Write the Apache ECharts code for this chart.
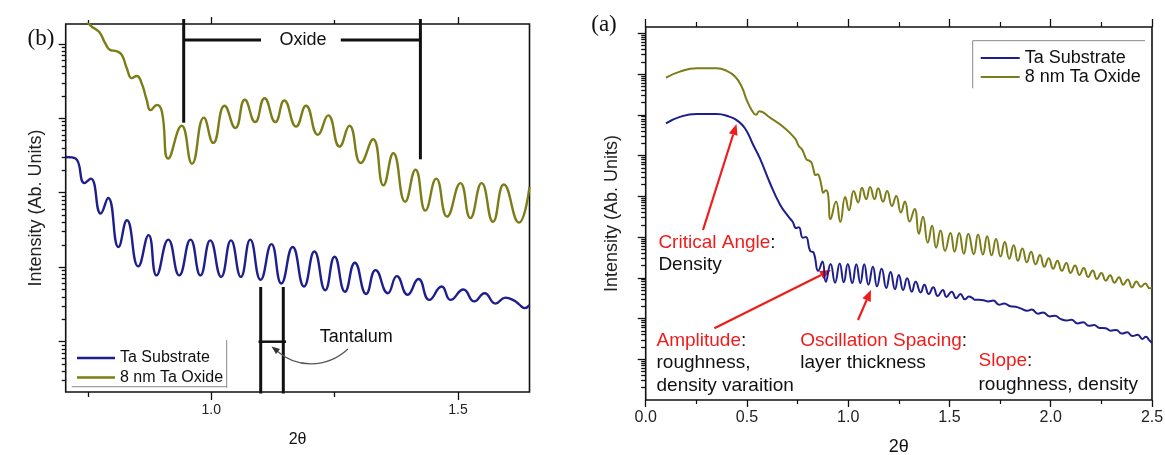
<!DOCTYPE html>
<html>
<head>
<meta charset="utf-8">
<script src="https://cdn.jsdelivr.net/npm/echarts@6.0.0/dist/echarts.min.js"></script>
<style>
  html, body { margin: 0; padding: 0; background: #fff; }
  #chart { width: 1165px; height: 455px; }
</style>
</head>
<body>
<div id="chart"></div>
<script>
// values; intensities are kept as log10 (decades), axes are log
const names = ['Ta Substrate', '8 nm Ta Oxide'];

// panel (b), zoomed 2θ range
const zoomSubX = [0.705, 0.725, 0.743, 0.756, 0.776, 0.791, 0.812, 0.829, 0.852, 0.873,
  0.889, 0.913, 0.935, 0.958, 0.978, 0.998, 1.020, 1.040, 1.060, 1.079,
  1.100, 1.122, 1.142, 1.165, 1.188, 1.209, 1.231, 1.250, 1.271, 1.291,
  1.314, 1.333, 1.358, 1.376, 1.398, 1.420, 1.442, 1.467, 1.485, 1.511,
  1.533, 1.554, 1.576, 1.596, 1.614, 1.624, 1.635, 1.645];
const zoomSubLog = [2.48, 2.46, 2.13, 2.19, 1.72, 1.93, 1.27, 1.63, 1.01, 1.43,
  0.89, 1.37, 0.89, 1.37, 0.89, 1.36, 0.87, 1.36, 0.87, 1.37,
  0.83, 1.31, 0.78, 1.27, 0.74, 1.21, 0.69, 1.14, 0.67, 1.06,
  0.64, 0.96, 0.65, 0.88, 0.63, 0.84, 0.56, 0.74, 0.56, 0.70,
  0.54, 0.65, 0.51, 0.59, 0.55, 0.50, 0.45, 0.49];
const zoomOxX = [0.705, 0.755, 0.773, 0.785, 0.795, 0.809, 0.819, 0.829, 0.839, 0.849,
  0.859, 0.869, 0.877, 0.890, 0.900, 0.913, 0.940, 0.961, 0.985, 1.004,
  1.027, 1.049, 1.068, 1.089, 1.108, 1.130, 1.148, 1.172, 1.192, 1.216,
  1.237, 1.260, 1.280, 1.303, 1.328, 1.349, 1.369, 1.393, 1.414, 1.434,
  1.456, 1.478, 1.505, 1.525, 1.548, 1.571, 1.593, 1.6235, 1.645];
const zoomOxLog = [4.64, 4.25, 4.16, 4.01, 3.92, 3.90, 3.85, 3.67, 3.54, 3.57,
  3.47, 3.25, 3.11, 3.18, 3.09, 2.46, 2.90, 2.39, 3.01, 2.67,
  3.17, 2.87, 3.25, 2.95, 3.27, 2.95, 3.24, 2.89, 3.17, 2.78,
  3.04, 2.62, 2.90, 2.40, 2.72, 2.10, 2.53, 1.88, 2.31, 1.76,
  2.19, 1.68, 2.13, 1.66, 2.13, 1.61, 2.11, 1.60, 2.08];

// panel (a), full scan
const fullSubX = [0.100, 0.169, 0.252, 0.351, 0.416, 0.449, 0.490, 0.531, 0.564, 0.614,
  0.663, 0.705, 0.725, 0.743, 0.756, 0.776, 0.791, 0.812, 0.829, 0.852,
  0.873, 0.889, 0.913, 0.935, 0.958, 0.978, 0.998, 1.020, 1.040, 1.060,
  1.079, 1.100, 1.122, 1.142, 1.165, 1.188, 1.209, 1.231, 1.250, 1.271,
  1.291, 1.314, 1.333, 1.358, 1.376, 1.398, 1.420, 1.442, 1.467, 1.485,
  1.511, 1.533, 1.554, 1.576, 1.596, 1.614, 1.624, 1.645,
  1.668, 1.691, 1.716, 1.745, 1.770, 1.801, 1.826, 1.851, 1.884, 1.906,
  1.937, 1.962, 1.995, 2.021, 2.048, 2.080, 2.102, 2.133, 2.160, 2.188,
  2.214, 2.240, 2.271, 2.296, 2.323, 2.351, 2.377, 2.404, 2.430, 2.452,
  2.470, 2.486, 2.500];
const fullSubLog = [5.79, 5.95, 6.02, 6.02, 5.95, 5.87, 5.67, 5.26, 4.93, 4.32,
  3.80, 3.50, 3.38, 3.22, 3.24, 2.98, 3.00, 2.66, 2.62, 2.17,
  2.40, 1.90, 2.34, 1.88, 2.35, 1.89, 2.34, 1.87, 2.33, 1.87,
  2.33, 1.83, 2.27, 1.79, 2.22, 1.75, 2.14, 1.72, 2.07, 1.70,
  1.99, 1.66, 1.90, 1.64, 1.83, 1.60, 1.77, 1.55, 1.70, 1.53,
  1.66, 1.50, 1.60, 1.47, 1.54, 1.50, 1.46, 1.46,
  1.45, 1.42, 1.44, 1.34, 1.37, 1.30, 1.29, 1.25, 1.19, 1.22,
  1.12, 1.15, 1.05, 1.07, 0.99, 0.95, 0.97, 0.88, 0.91, 0.82,
  0.84, 0.77, 0.76, 0.70, 0.72, 0.63, 0.66, 0.57, 0.60, 0.50,
  0.55, 0.47, 0.40];
const fullOxX = [0.100, 0.169, 0.252, 0.351, 0.400, 0.441, 0.474, 0.499, 0.523, 0.545,
  0.561, 0.614, 0.680, 0.737, 0.755, 0.773, 0.785, 0.795, 0.809, 0.819,
  0.829, 0.839, 0.849, 0.859, 0.869, 0.877, 0.890, 0.900, 0.913, 0.940,
  0.961, 0.985, 1.004, 1.027, 1.049, 1.068, 1.089, 1.108, 1.130, 1.148,
  1.172, 1.192, 1.216, 1.237, 1.260, 1.280, 1.303, 1.328, 1.349, 1.369,
  1.393, 1.414, 1.434, 1.456, 1.478, 1.505, 1.525, 1.548, 1.571, 1.593,
  1.620, 1.641, 1.665, 1.686, 1.708, 1.730, 1.752, 1.773, 1.795, 1.817,
  1.838, 1.860, 1.882, 1.903, 1.925, 1.947, 1.968, 1.990, 2.012, 2.033,
  2.055, 2.077, 2.098, 2.120, 2.142, 2.163, 2.185, 2.207, 2.228, 2.250,
  2.272, 2.293, 2.315, 2.337, 2.358, 2.380, 2.402, 2.423, 2.445, 2.467,
  2.488, 2.500];
const fullOxLog = [6.91, 7.06, 7.14, 7.14, 7.08, 6.94, 6.69, 6.36, 6.12, 6.00,
  6.09, 5.93, 5.70, 5.42, 5.24, 5.14, 5.00, 4.90, 4.87, 4.82,
  4.65, 4.52, 4.54, 4.45, 4.23, 4.09, 4.15, 4.06, 3.44, 3.87,
  3.37, 3.98, 3.66, 4.13, 3.85, 4.21, 3.93, 4.23, 3.93, 4.20,
  3.87, 4.13, 3.76, 4.01, 3.60, 3.87, 3.38, 3.69, 3.08, 3.50,
  2.86, 3.28, 2.74, 3.16, 2.66, 3.10, 2.64, 3.10, 2.59, 3.08,
  2.58, 3.06, 2.57, 3.02, 2.55, 2.95, 2.52, 2.88, 2.47, 2.80,
  2.42, 2.72, 2.38, 2.64, 2.33, 2.56, 2.27, 2.48, 2.22, 2.42,
  2.17, 2.36, 2.12, 2.30, 2.07, 2.24, 2.02, 2.18, 1.97, 2.12,
  1.93, 2.06, 1.88, 2.01, 1.83, 1.96, 1.76, 1.91, 1.78, 1.86,
  1.74, 1.77];

const zoomXMajor = [1.0, 1.5];
const zoomXMinor = [0.75, 1.25];

const BLUE = '#1e1e8c';
const OLIVE = '#7c7c18';
const INK = '#111';
const SANS = '"Liberation Sans", Arial, sans-serif';
const SERIF = '"Liberation Serif", "Times New Roman", serif';

function pairs(xs, logs) {
  return xs.map((x, i) => [x, Math.pow(10, logs[i])]);
}
function decades(lo, hi) {
  const out = [];
  for (let e = lo; e <= hi; e++) out.push(Math.pow(10, e));
  return out;
}
function logMinor(lo, hi) {
  const out = [];
  for (let e = lo; e <= hi; e++)
    for (let k = 2; k <= 9; k++) out.push(k * Math.pow(10, e));
  return out;
}

function xAx(grid, pos, extra) {
  return Object.assign({
    type: 'value', gridIndex: grid, position: pos,
    axisLine: { show: false }, splitLine: { show: false },
    axisLabel: { show: false },
    axisTick: { lineStyle: { color: INK, width: 1.3 } }
  }, extra);
}
function yAx(grid, min, max, ticks, len, extra) {
  return Object.assign({
    type: 'log', logBase: 10, gridIndex: grid, position: 'left', min: min, max: max,
    axisLine: { show: false }, splitLine: { show: false },
    axisLabel: { show: false },
    axisTick: { customValues: ticks, length: len, lineStyle: { color: INK, width: 1.3 } }
  }, extra);
}

function line(x1, y1, x2, y2, w, color) {
  return { type: 'line', silent: true, shape: { x1, y1, x2, y2 },
    style: { stroke: color || INK, lineWidth: w || 1 } };
}
function label(x, y, text, size, family, color, align) {
  return { type: 'text', silent: true, x: x, y: y,
    style: { text: text, fill: color || INK, font: size + 'px ' + (family || SANS),
      align: align || 'left', verticalAlign: 'middle' } };
}
function richLabel(x, y, red, size) {
  return { type: 'text', silent: true, x: x, y: y,
    style: {
      text: '{r|' + red + '}{k|:}', verticalAlign: 'middle', align: 'left',
      font: size + 'px ' + SANS,
      rich: {
        r: { fill: '#f01c1c', fontSize: size, fontFamily: SANS },
        k: { fill: INK, fontSize: size, fontFamily: SANS }
      }
    } };
}
function arrow(x1, y1, x2, y2) {
  const a = Math.atan2(y2 - y1, x2 - x1);
  const L = 11, W = 4.5;
  const bx = x2 - L * Math.cos(a), by = y2 - L * Math.sin(a);
  const nx = -Math.sin(a) * W, ny = Math.cos(a) * W;
  return [
    line(x1, y1, bx, by, 2.2, '#f01c1c'),
    { type: 'polygon', silent: true,
      shape: { points: [[x2, y2], [bx + nx, by + ny], [bx - nx, by - ny]] },
      style: { fill: '#f01c1c' } }
  ];
}

const lineSeries = (name, color, xi, yi, data, width) => ({
  type: 'line', name: name, xAxisIndex: xi, yAxisIndex: yi, data: data,
  symbol: 'none', showSymbol: false, smooth: 0.5, clip: true,
  lineStyle: { color: color, width: width }, itemStyle: { color: color }
});

const legendBase = {
  orient: 'vertical', icon: 'rect', padding: 0, selectedMode: false,
  data: names
};

const chart = echarts.init(document.getElementById('chart'));
chart.setOption({
  animation: false,
  backgroundColor: '#fff',
  grid: [
    { left: 65.7, top: 24, width: 463.8, height: 368, show: true,
      borderColor: INK, borderWidth: 1.6, outerBoundsMode: 'none' },
    { left: 645.7, top: 27, width: 506.3, height: 373, show: true,
      borderColor: INK, borderWidth: 1.6, outerBoundsMode: 'none' }
  ],
  xAxis: [
    xAx(0, 'bottom', {
      min: 0.705, max: 1.645,
      axisTick: { customValues: zoomXMajor, length: 8, lineStyle: { color: INK, width: 1.3 } },
      axisLabel: { show: true, customValues: zoomXMajor, margin: 11, fontSize: 14,
        fontFamily: SANS, color: '#222', formatter: v => v.toFixed(1) },
      name: '2θ', nameLocation: 'middle', nameGap: 40,
      nameTextStyle: { fontSize: 16, fontFamily: SANS, color: INK }
    }),
    xAx(0, 'bottom', { min: 0.705, max: 1.645,
      axisTick: { customValues: zoomXMinor, length: 5, lineStyle: { color: INK, width: 1.3 } } }),
    xAx(0, 'top', { min: 0.705, max: 1.645,
      axisTick: { customValues: zoomXMajor, length: 7, lineStyle: { color: INK, width: 1.3 } } }),
    xAx(0, 'top', { min: 0.705, max: 1.645,
      axisTick: { customValues: zoomXMinor, length: 4, lineStyle: { color: INK, width: 1.3 } } }),
    xAx(1, 'bottom', {
      min: 0, max: 2.5, interval: 0.5,
      axisTick: { length: 7, lineStyle: { color: INK, width: 1.3 } },
      minorTick: { show: true, splitNumber: 2, length: 4, lineStyle: { color: INK, width: 1.2 } },
      axisLabel: { show: true, margin: 10, fontSize: 16, fontFamily: SANS, color: '#222',
        formatter: v => v.toFixed(1) },
      name: '2θ', nameLocation: 'middle', nameGap: 38,
      nameTextStyle: { fontSize: 18, fontFamily: SANS, color: INK }
    }),
    xAx(1, 'top', {
      min: 0, max: 2.5, interval: 0.5,
      axisTick: { length: 8, lineStyle: { color: INK, width: 1.3 } },
      minorTick: { show: true, splitNumber: 2, length: 5, lineStyle: { color: INK, width: 1.2 } }
    })
  ],
  yAxis: [
    yAx(0, 0.21, 18530, decades(0, 4), 7, {
      name: 'Intensity (Ab. Units)', nameLocation: 'middle', nameRotate: 90, nameGap: 20.7,
      nameTextStyle: { fontSize: 18, fontFamily: SANS, color: '#222' }
    }),
    yAx(0, 0.21, 18530, logMinor(-1, 4), 4),
    yAx(1, 0.1, 1.43e8, decades(0, 8), 8, {
      name: 'Intensity (Ab. Units)', nameLocation: 'middle', nameRotate: 90, nameGap: 24.7,
      nameTextStyle: { fontSize: 18, fontFamily: SANS, color: '#222' }
    }),
    yAx(1, 0.1, 1.43e8, logMinor(-1, 8), 4.5)
  ],
  legend: [
    Object.assign({}, legendBase, { left: 77, top: 349.5, itemWidth: 38, itemHeight: 2.5,
      itemGap: 2.4, textStyle: { fontSize: 16, fontFamily: SANS, color: INK, lineHeight: 17 } }),
    Object.assign({}, legendBase, { left: 980.7, top: 49, itemWidth: 39, itemHeight: 2,
      itemGap: 1, textStyle: { fontSize: 18, fontFamily: SANS, color: INK, lineHeight: 18 } })
  ],
  series: [
    lineSeries(names[0], BLUE, 0, 0, pairs(zoomSubX, zoomSubLog), 2.4),
    lineSeries(names[1], OLIVE, 0, 0, pairs(zoomOxX, zoomOxLog), 2.4),
    lineSeries(names[0], BLUE, 4, 2, pairs(fullSubX, fullSubLog), 2),
    lineSeries(names[1], OLIVE, 4, 2, pairs(fullOxX, fullOxLog), 2)
  ],
  graphic: { elements: [
    // panel (b)
    label(27.5, 39, '(b)', 23, SERIF),
    line(183.7, 19, 183.7, 122.7, 3),
    line(420.4, 19, 420.4, 159.3, 3),
    line(183.7, 40, 261, 40, 3),
    line(340.8, 40, 420.4, 40, 3),
    label(303, 40, 'Oxide', 18, SANS, INK, 'center'),
    line(260.7, 287, 260.7, 393.5, 3),
    line(283.3, 287, 283.3, 393.5, 3),
    line(258.5, 341.7, 286, 341.7, 2.5),
    label(356.3, 337, 'Tantalum', 18, SANS, INK, 'center'),
    { type: 'bezierCurve', silent: true,
      shape: { x1: 348, y1: 349, cpx1: 326, cpy1: 369, cpx2: 296, cpy2: 368, x2: 277, y2: 351 },
      style: { stroke: '#555', lineWidth: 1.2, fill: null } },
    { type: 'polygon', silent: true,
      shape: { points: [[271.5, 346.5], [280, 349], [276, 354]] }, style: { fill: '#333' } },
    line(226.7, 340, 226.7, 387.7, 1, '#888'),
    line(71.7, 386.7, 226.7, 386.7, 1, '#888'),
    // panel (a)
    label(604, 25, '(a)', 23, SERIF, INK, 'center'),
    line(972.7, 40.7, 972.7, 88.3, 1, '#888'),
    line(972.7, 40.7, 1145, 40.7, 1, '#888'),
    richLabel(658.4, 243, 'Critical Angle', 19),
    label(658.4, 265, 'Density', 19),
    richLabel(656.5, 341, 'Amplitude', 19),
    label(656.5, 363, 'roughness,', 19),
    label(656.5, 385.5, 'density varaition', 19),
    richLabel(800.2, 341, 'Oscillation Spacing', 19),
    label(800.2, 363, 'layer thickness', 19),
    richLabel(978.5, 361, 'Slope', 19),
    label(978.5, 385, 'roughness, density', 19)
  ].concat(
    arrow(703, 230, 736.5, 124),
    arrow(714.4, 328.3, 831, 270),
    arrow(858, 320, 871, 290)
  ) }
});
</script>
</body>
</html>
